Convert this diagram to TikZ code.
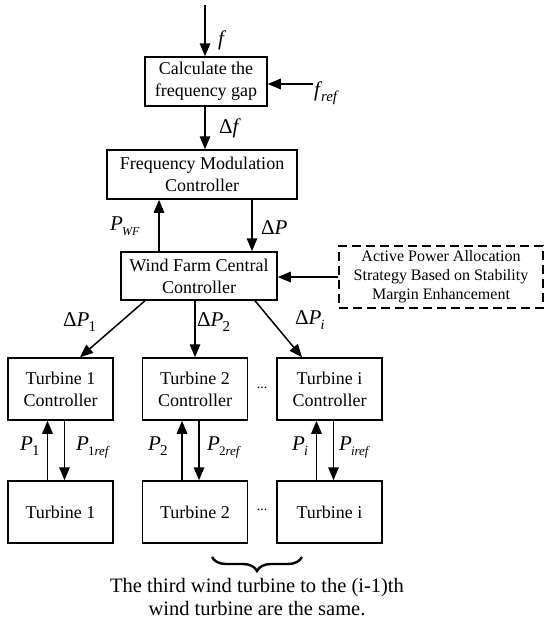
\documentclass[tikz,border=0pt]{standalone}
\usepackage{fontspec}
\setmainfont{Liberation Serif}
\usetikzlibrary{arrows.meta,decorations.pathreplacing}
\begin{document}
\begin{tikzpicture}[x=1pt,y=-1pt,
  box/.style={draw,line width=1.5pt,align=center,font=\fontsize{18}{22}\selectfont,inner sep=0pt},
  dbox/.style={draw,line width=1.5pt,dashed,dash pattern=on 9pt off 5pt,align=center,font=\fontsize{16}{19}\selectfont,inner sep=0pt},
  arr/.style={line width=1.5pt,-{Triangle[length=13pt,width=10.5pt]}},
  lab/.style={font=\fontsize{21}{21}\selectfont\itshape,inner sep=0pt},
  note/.style={font=\fontsize{20.5}{23}\selectfont,align=center,inner sep=0pt}]
\useasboundingbox (0,0) rectangle (550,632);
% boxes
\node[box,minimum width=122pt,minimum height=49pt] (calc) at (206,81.5) {Calculate the\\frequency gap};
\node[box,minimum width=190pt,minimum height=49pt] (fmc) at (202,174.5) {Frequency Modulation\\Controller};
\node[box,minimum width=156pt,minimum height=48pt] (wfcc) at (199,276) {Wind Farm Central\\Controller};
\node[dbox,minimum width=204pt,minimum height=62pt] (apa) at (441,277) {Active Power Allocation\\Strategy Based on Stability\\Margin Enhancement};
\node[box,minimum width=105pt,minimum height=62pt] (tc1) at (60.5,389) {Turbine 1\\Controller};
\node[box,minimum width=105pt,minimum height=62pt] (tc2) at (195,389) {Turbine 2\\Controller};
\node[box,minimum width=105pt,minimum height=62pt] (tci) at (329.5,389) {Turbine i\\Controller};
\node[box,minimum width=105pt,minimum height=62pt] (t1) at (60.5,512) {Turbine 1};
\node[box,minimum width=105pt,minimum height=62pt] (t2) at (195,512) {Turbine 2};
\node[box,minimum width=105pt,minimum height=62pt] (ti) at (329.5,512) {Turbine i};
\node[font=\fontsize{14}{14}\selectfont] (dots1) at (262,388) {...};
\node[font=\fontsize{14}{14}\selectfont] (dots2) at (262,510) {...};
% inputs
\coordinate (ftop) at (205,5);
\coordinate (fref) at (313,84);
\draw[arr] (ftop) -- (ftop |- calc.north);
\draw[arr] (fref) -- (fref -| calc.east);
\draw[arr] ([xshift=-1pt]calc.south) -- ([xshift=-1pt]calc.south |- fmc.north);
\draw[arr] ([xshift=-40pt]wfcc.north) -- ([xshift=-40pt]wfcc.north |- fmc.south);
\draw[arr] ([xshift=53pt]wfcc.north |- fmc.south) -- ([xshift=53pt]wfcc.north);
\draw[arr] (apa.west |- 0,277) -- (wfcc.east |- 0,277);
% to turbine controllers
\draw[arr] ([xshift=-54pt]wfcc.south) -- ([xshift=19.5pt]tc1.north);
\draw[arr] ([xshift=-4pt]wfcc.south) -- (tc2.north);
\draw[arr] ([xshift=56pt]wfcc.south) -- ([xshift=-27.5pt]tci.north);
% controller <-> turbine
\foreach \c/\t in {tc1/t1,tc2/t2,tci/ti}{
  \draw[arr] ([xshift=-13pt]\t.north) -- ([xshift=-13pt]\c.south);
  \draw[arr] ([xshift=4pt]\c.south) -- ([xshift=4pt]\t.north);
}
% labels
\node[lab,anchor=west] (lf) at (218,40) {f};
\node[lab,anchor=west] (lfref) at (314,93) {f\kern1pt\raisebox{-5pt}{\fontsize{15}{15}\selectfont ref}};
\node[lab,anchor=west] (ldf) at (219,128) {\upshape Δ\itshape f};
\node[lab,anchor=west] (lpwf) at (110,226) {P\kern-1pt\raisebox{-5pt}{\fontsize{12}{12}\selectfont WF}};
\node[lab,anchor=west] (ldp) at (261,228) {\upshape Δ\itshape P};
\node[lab,anchor=west] (ldp1) at (63,322) {\upshape Δ\itshape P\kern-1pt\raisebox{-5pt}{\upshape\fontsize{15}{15}\selectfont 1}};
\node[lab,anchor=west] (ldp2) at (197,322) {\upshape Δ\itshape P\kern-1pt\raisebox{-5pt}{\upshape\fontsize{15}{15}\selectfont 2}};
\node[lab,anchor=west] (ldpi) at (295,320) {\upshape Δ\itshape P\kern-1pt\raisebox{-5pt}{\fontsize{14}{14}\selectfont i}};
\node[lab,anchor=west] (lp1) at (20,446) {P\kern-1pt\raisebox{-5pt}{\upshape\fontsize{15}{15}\selectfont 1}};
\node[lab,anchor=west] (lp1r) at (76,448) {P\kern-1pt\raisebox{-5pt}{\fontsize{13}{13}\selectfont{\upshape 1}ref}};
\node[lab,anchor=west] (lp2) at (148,446) {P\kern-1pt\raisebox{-5pt}{\upshape\fontsize{15}{15}\selectfont 2}};
\node[lab,anchor=west] (lp2r) at (207,448) {P\kern-1pt\raisebox{-5pt}{\fontsize{13}{13}\selectfont{\upshape 2}ref}};
\node[lab,anchor=west] (lpi) at (292,446) {P\kern-1pt\raisebox{-5pt}{\fontsize{14}{14}\selectfont i}};
\node[lab,anchor=west] (lpir) at (339,448) {P\kern-1pt\raisebox{-5pt}{\fontsize{13}{13}\selectfont iref}};
% brace and note
\draw[line width=2.4pt,decorate,decoration={brace,mirror,amplitude=14pt}] (212,557) -- (302,557);
\node[note] (note) at (257,597) {The third wind turbine to the (i-1)th\\wind turbine are the same.};
\end{tikzpicture}
\end{document}
